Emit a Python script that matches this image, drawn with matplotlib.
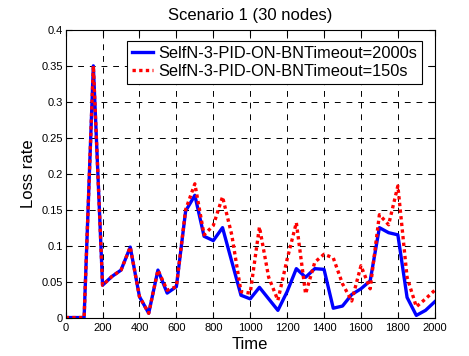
import numpy as np
import matplotlib
matplotlib.use('Agg')
import matplotlib.pyplot as plt

plt.rcParams['font.family'] = ['Liberation Sans', 'DejaVu Sans']

time = np.arange(0, 2001, 50)
loss_2000s = [0, 0, 0, 0.35, 0.045, 0.057, 0.066, 0.098, 0.029, 0.006,
              0.066, 0.034, 0.043, 0.148, 0.170, 0.113, 0.107, 0.125, 0.078, 0.031,
              0.026, 0.042, 0.026, 0.010, 0.036, 0.068, 0.056, 0.068, 0.067, 0.013,
              0.016, 0.032, 0.040, 0.051, 0.125, 0.118, 0.115, 0.028, 0.003, 0.010,
              0.022]
loss_150s = [0, 0, 0, 0.35, 0.045, 0.057, 0.066, 0.098, 0.029, 0.006,
             0.066, 0.038, 0.043, 0.150, 0.186, 0.115, 0.128, 0.168, 0.115, 0.036,
             0.034, 0.126, 0.056, 0.024, 0.081, 0.132, 0.033, 0.077, 0.088, 0.083,
             0.047, 0.023, 0.072, 0.040, 0.143, 0.129, 0.183, 0.056, 0.015, 0.026,
             0.038]
labels = ['SelfN-3-PID-ON-BNTimeout=2000s', 'SelfN-3-PID-ON-BNTimeout=150s']

fig = plt.figure(figsize=(4.69, 3.56), dpi=100)
ax = fig.add_axes([0.140, 0.108, 0.787, 0.808])

ax.plot(time, loss_2000s, color='#0000ff', lw=2.4, label=labels[0])
ax.plot(time, loss_150s, color='#ff0000', lw=2.4, ls=(0, (1, 1)), label=labels[1])

ax.set_xlim(0, 2000)
ax.set_ylim(0, 0.4)
ax.set_xticks(np.arange(0, 2001, 200))
ax.set_yticks(np.arange(0, 0.401, 0.05))
ax.set_yticklabels(['0', '0.05', '0.1', '0.15', '0.2', '0.25', '0.3', '0.35', '0.4'])
ax.tick_params(direction='in', top=True, right=True, length=4, width=0.8,
               labelsize=8)
ax.tick_params(axis='x', pad=4)
ax.tick_params(axis='y', pad=2)
ax.grid(True, color='black', ls=(0, (6, 6)), lw=0.7)
for s in ax.spines.values():
    s.set_linewidth(0.8)

ax.set_xlabel('Time', fontsize=12, labelpad=3)
ax.set_ylabel('Loss rate', fontsize=12, labelpad=4)
ax.set_title('Scenario 1 (30 nodes)', fontsize=12, pad=7)

leg = ax.legend(loc='upper right', fontsize=11.8, fancybox=False, framealpha=1,
                edgecolor='black', borderpad=0.3, labelspacing=0.2,
                handlelength=1.3, handletextpad=0.3,
                bbox_to_anchor=(0.987, 0.99))
leg.get_frame().set_linewidth(0.8)

fig.savefig('out.png', dpi=100)
